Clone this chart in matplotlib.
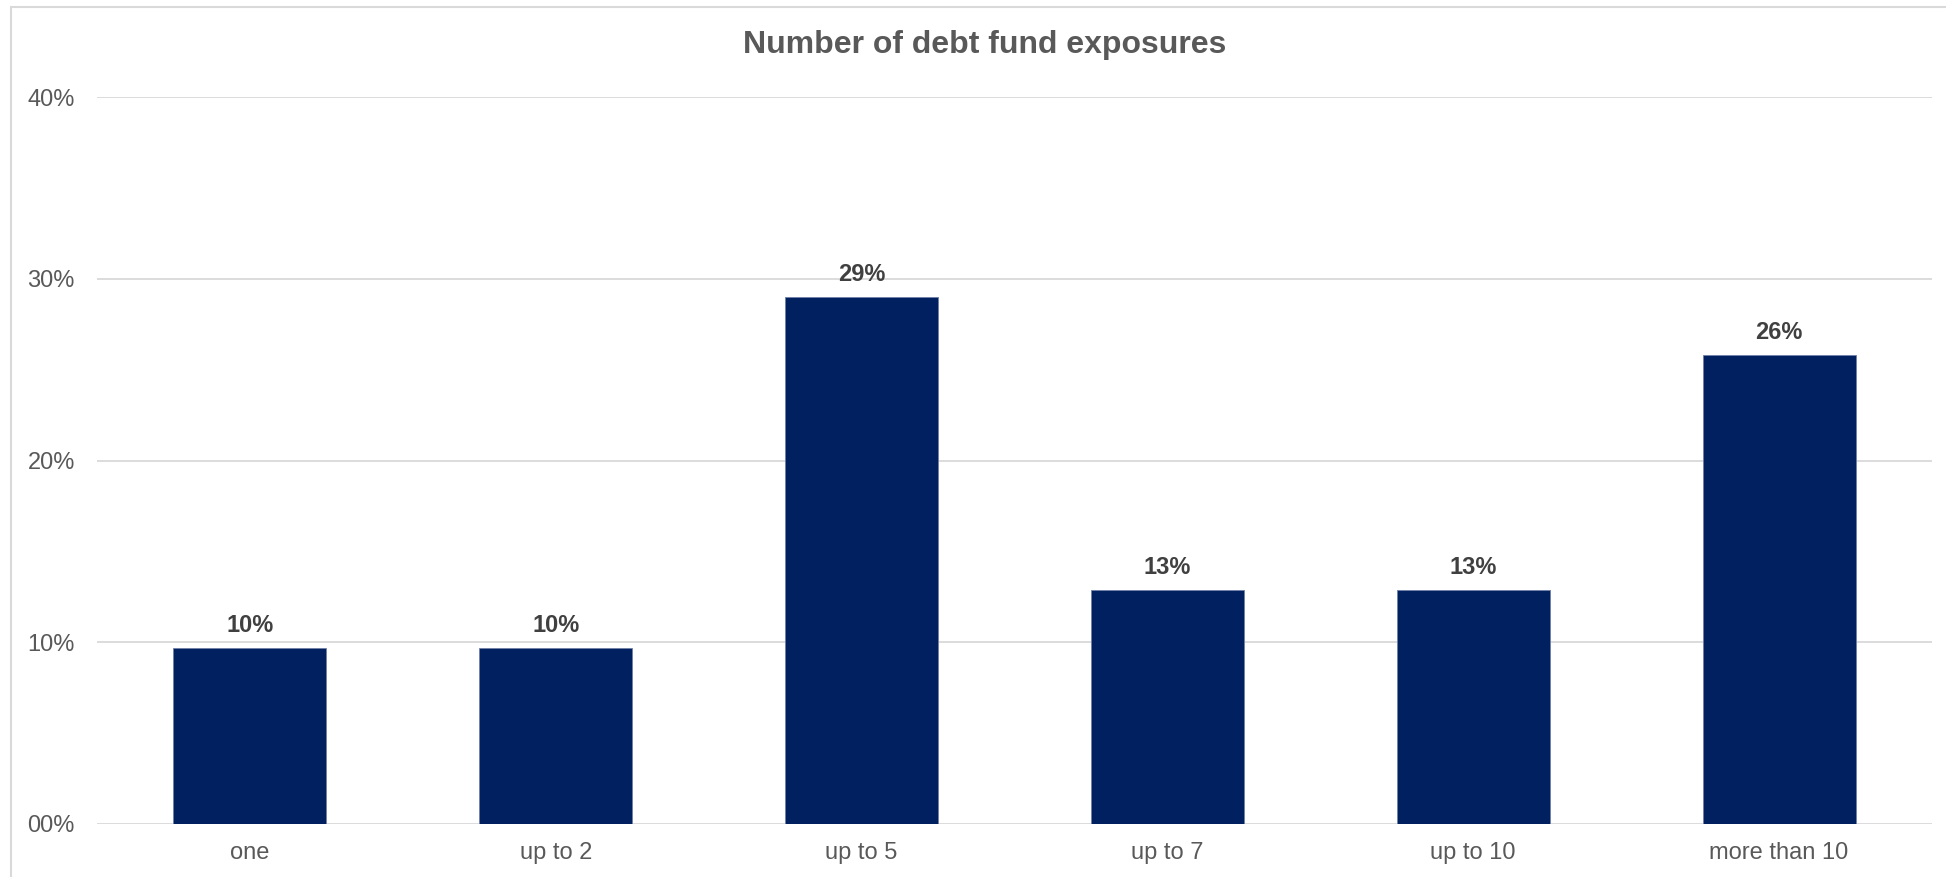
import matplotlib.pyplot as plt
from matplotlib.patches import Rectangle

categories = ["one", "up to 2", "up to 5", "up to 7", "up to 10", "more than 10"]
shares = [9.7, 9.7, 29.0, 12.9, 12.9, 25.8]
y_ticks = [0, 10, 20, 30, 40]
y_tick_labels = ["00%", "10%", "20%", "30%", "40%"]

plt.rcParams["font.family"] = ["Liberation Sans", "DejaVu Sans"]

W, H = 1946, 877
fig = plt.figure(figsize=(W / 100, H / 100), dpi=100)
ax = fig.add_axes([97 / W, 1 - 824 / H, (1932 - 97) / W, (824 - 97) / H])

x = range(len(categories))
ax.bar(x, shares, width=0.5, color="#002060", edgecolor="#6f7fa6", linewidth=0.6, zorder=3)

for i, v in enumerate(shares):
    ax.annotate(f"{v:.0f}%", (i, v), xytext=(0, 16), textcoords="offset points",
                ha="center", va="center", fontsize=17, fontweight="bold", color="#404040")

ax.set_xlim(-0.5, len(categories) - 0.5)
ax.set_ylim(0, 40)
ax.set_yticks(y_ticks)
ax.set_yticklabels(y_tick_labels)
ax.set_xticks(list(x))
ax.set_xticklabels(categories)
ax.tick_params(axis="y", length=0, pad=16, labelsize=17, labelcolor="#595959")
ax.tick_params(axis="x", length=0, pad=13, labelsize=17, labelcolor="#595959")
ax.grid(axis="y", color="#d9d9d9", linewidth=1.3, zorder=0)
for s in ax.spines.values():
    s.set_visible(False)

fig.text(985 / W, 1 - 45 / H, "Number of debt fund exposures", ha="center", va="center",
         fontsize=23, fontweight="bold", color="#595959")

# outer chart frame, runs off the right and bottom edges
fig.patches.append(Rectangle((11 / W, -0.1), 1.2, 1.1 - 7 / H, transform=fig.transFigure,
                             fill=False, edgecolor="#d9d9d9", linewidth=1.5))

fig.savefig("out.png", dpi=100)
